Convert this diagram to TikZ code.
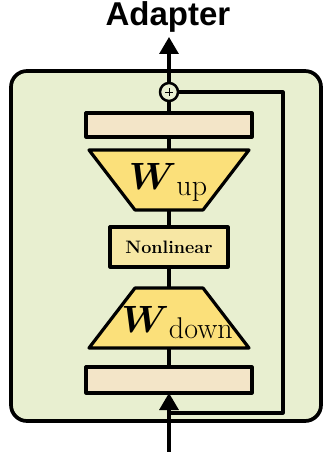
\documentclass[tikz,border=0pt]{standalone}
\usepackage{fix-cm}
\usepackage{amsmath}
\usepackage[no-math]{fontspec}
\newfontfamily\adfont{Liberation Sans}
\usetikzlibrary{arrows.meta,calc}
\definecolor{outerfill}{HTML}{E8EFD0}
\definecolor{beigefill}{HTML}{F3E5C8}
\definecolor{yellowfill}{HTML}{FBE07A}
\definecolor{nlfill}{HTML}{F7E7A4}
\DeclareFontShape{OML}{cmm}{b}{it}{<->cmmib10}{}
\newcommand\wlab[1]{{\fontsize{38}{38}\selectfont$\boldsymbol{W}$}{\fontsize{30}{30}\selectfont\raisebox{-6pt}{#1}}}
\begin{document}
\begin{tikzpicture}[x=1pt,y=-1pt,line join=round,
  blk/.style={draw=black,line width=3.2pt},
  conn/.style={draw=black,line width=3.2pt},
  arr/.style={conn,-{Triangle[length=17pt,width=19pt]}},
  shapebox/.style={inner sep=0pt,outer sep=0pt,minimum width=#1},
  ]
\useasboundingbox (0,0) rectangle (326,452);
% outer container
\draw[line width=3.7pt,fill=outerfill,rounded corners=16pt] (11,71) rectangle (321,421);
% boxes
\node[blk,fill=beigefill,shapebox=166,minimum height=24] (tbox) at (169,125) {};
\node[blk,fill=beigefill,shapebox=166,minimum height=26] (bbox) at (169,380) {};
\node[blk,fill=nlfill,shapebox=118,minimum height=40] (nl) at (169,247)
  {\fontsize{18}{18}\selectfont\bfseries Nonlinear};
% trapezoids
\node[shapebox=160,minimum height=60] (wup) at (169,180) {};
\draw[blk,fill=yellowfill] (wup.north west) -- (wup.north east)
  -- ($(wup.south east)+(-46,0)$) -- ($(wup.south west)+(46,0)$) -- cycle;
\node[anchor=base] (wupt) at (168,189) {\wlab{up}};
\node[shapebox=160,minimum height=60] (wdown) at (169,318) {};
\draw[blk,fill=yellowfill] ($(wdown.north west)+(46,0)$) -- ($(wdown.north east)+(-46,0)$)
  -- (wdown.south east) -- (wdown.south west) -- cycle;
\node[anchor=base] (wdownt) at (177,332) {\wlab{down}};
% sum circle
\node[draw=black,line width=2.5pt,circle,inner sep=0pt,minimum size=18pt] (sum) at (169,92) {};
\draw[line width=0.7pt] ($(sum)+(-4,0)$) -- ($(sum)+(4,0)$);
\draw[line width=0.7pt] ($(sum)+(0,-4)$) -- ($(sum)+(0,4)$);
% title
\node[anchor=base] (ad) at (168,26) {\adfont\bfseries\fontsize{33}{33}\selectfont Adapter};
% coordinates
\coordinate (out) at (169,37);
\coordinate (in) at (169,452);
\coordinate (skipc) at (283,413);
\coordinate (skipj) at (169,413);
% connectors
\draw[conn] (tbox.north) -- (sum.south);
\draw[conn] (wup.north) -- (tbox.south);
\draw[conn] (nl.north) -- (wup.south);
\draw[conn] (wdown.north) -- (nl.south);
\draw[conn] (bbox.north) -- (wdown.south);
\draw[arr] (sum.north) -- (out);
\draw[arr] (in) -- (bbox.south);
\draw[conn] (sum.east) -| (skipc) -- (skipj);
\end{tikzpicture}
\end{document}
